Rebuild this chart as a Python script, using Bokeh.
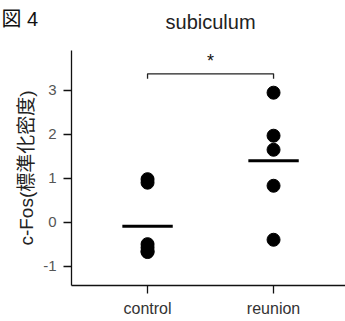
from bokeh.plotting import figure
from bokeh.models import Range1d, Label, FixedTicker
from bokeh.embed import file_html
from bokeh.resources import INLINE

groups = ["control", "reunion"]
group_pos = [1, 2]
control_vals = [0.98, 0.90, -0.50, -0.58, -0.66, -0.68]
reunion_vals = [2.95, 1.97, 1.65, 0.83, -0.40]
y_ticks = [-1, 0, 1, 2, 3]
y_tick_labels = ["-1", "0", "1", "2", "3"]
title_text = "subiculum"
fig_text = "図 4"
y_label = "c-Fos(標準化密度)"
sig_text = "*"

FONT = "Liberation Sans, Noto Sans CJK JP"

# axis extents (data units)
x_lo, x_hi = 0.397, 2.571
y_lo, y_hi = -1.442, 3.911

p = figure(width=345, height=321, output_backend="svg", toolbar_location=None,
           x_range=Range1d(-0.167, 2.571), y_range=Range1d(-2.262, 5.050),
           min_border=0)
p.outline_line_color = None
p.grid.visible = False
p.background_fill_color = "white"
p.border_fill_color = "white"

# points
xs = [group_pos[0]] * len(control_vals) + [group_pos[1]] * len(reunion_vals)
ys = control_vals + reunion_vals
p.scatter(xs, ys, size=13, color="black", line_color="black")

# means
means = [sum(control_vals) / len(control_vals), sum(reunion_vals) / len(reunion_vals)]
half = 0.2
p.segment(x0=[g - half for g in group_pos], y0=means, x1=[g + half for g in group_pos], y1=means,
          line_color="black", line_width=3)

# significance bracket
yb, ye = 3.38, 3.27
p.line([group_pos[0], group_pos[0], group_pos[1], group_pos[1]], [ye, yb, yb, ye],
       line_color="#222222", line_width=1.3)
p.add_layout(Label(x=1.5, y=3.68, text=sig_text, text_align="center", text_baseline="middle",
                   text_font=FONT, text_font_size="18px", text_color="#111111"))

# title and figure label
p.add_layout(Label(x=1.5, y=4.57, text=title_text, text_align="center", text_baseline="alphabetic",
                   text_font=FONT, text_font_size="20px", text_color="#222222"))
p.add_layout(Label(x=-0.159, y=4.62, text=fig_text, text_align="left", text_baseline="alphabetic",
                   text_font=FONT, text_font_size="20px", text_color="#111111"))

# axes
p.xaxis.fixed_location = y_lo
p.xaxis.bounds = (x_lo, x_hi)
p.yaxis.fixed_location = x_lo
p.yaxis.bounds = (y_lo, y_hi)
p.xaxis.ticker = FixedTicker(ticks=group_pos)
p.xaxis.major_label_overrides = {g: n for g, n in zip(group_pos, groups)}
p.yaxis.ticker = FixedTicker(ticks=y_ticks)
p.yaxis.major_label_overrides = {t: s for t, s in zip(y_ticks, y_tick_labels)}
for ax in (p.xaxis[0], p.yaxis[0]):
    ax.axis_line_color = "#111111"
    ax.axis_line_width = 1.3
    ax.major_tick_line_color = "#111111"
    ax.major_tick_line_width = 1.3
    ax.major_tick_out = 8
    ax.major_tick_in = 0
    ax.minor_tick_line_color = None
    ax.major_label_text_font = FONT
p.yaxis.major_label_text_font_size = "15px"
p.yaxis.major_label_text_color = "#555555"
p.yaxis.major_label_standoff = 7
p.xaxis.major_label_text_font_size = "16px"
p.xaxis.major_label_text_color = "#333333"
p.xaxis.major_label_standoff = 6
p.yaxis.axis_label = y_label
p.yaxis.axis_label_text_font = FONT
p.yaxis.axis_label_text_font_size = "19px"
p.yaxis.axis_label_text_font_style = "normal"
p.yaxis.axis_label_text_color = "#222222"
p.yaxis.axis_label_standoff = 3

open("out.html", "w").write(file_html(p, INLINE))
